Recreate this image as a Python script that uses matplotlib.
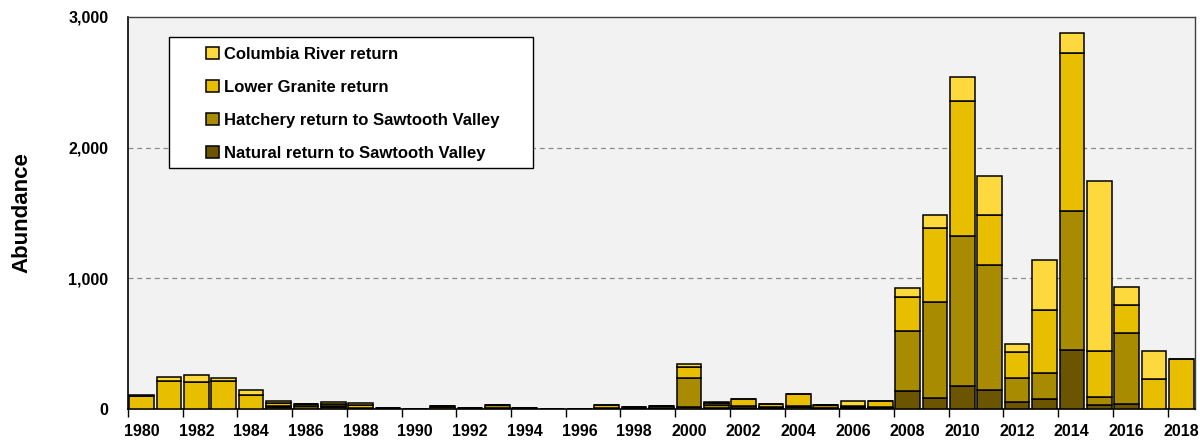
import numpy as np
import matplotlib
matplotlib.use("Agg")
import matplotlib.pyplot as plt
from matplotlib.patches import Rectangle
from matplotlib.ticker import FuncFormatter

# return years
years = list(range(1980, 2019))

# stacked segments per year (fish counts), bottom to top
natural = [0, 0, 0, 0, 0, 12, 20, 12, 5, 3,
           3, 12, 5, 10, 5, 3, 3, 4, 10, 8,
           15, 10, 8, 8, 15, 10, 8, 8, 135, 84,
           179, 148, 54, 77, 452, 28, 38, 0, 0]
hatchery = [0, 0, 0, 0, 0, 14, 16, 11, 5, 2,
            0, 8, 0, 18, 0, 0, 0, 4, 5, 17,
            225, 21, 12, 10, 5, 18, 7, 7, 465, 735,
            1148, 951, 186, 196, 1063, 64, 541, 0, 0]
lower_granite = [100, 214, 207, 212, 105, 20, 0, 18, 21, 0,
                 0, 0, 0, 0, 0, 0, 0, 20, 0, 0,
                 80, 15, 54, 18, 92, 0, 5, 44, 257, 569,
                 1033, 383, 196, 482, 1212, 352, 217, 232, 380]
columbia = [7, 28, 51, 28, 40, 15, 0, 13, 15, 0,
            0, 0, 0, 0, 0, 0, 0, 0, 0, 0,
            22, 5, 0, 0, 0, 0, 41, 0, 72, 94,
            178, 299, 61, 383, 148, 1303, 135, 212, 0]

series = [
    ("Natural return to Sawtooth Valley", natural, "#6b5500"),
    ("Hatchery return to Sawtooth Valley", hatchery, "#a88b00"),
    ("Lower Granite return", lower_granite, "#e8be00"),
    ("Columbia River return", columbia, "#fdd93d"),
]

plt.rcParams["font.family"] = ["Liberation Sans", "DejaVu Sans"]
plt.rcParams["font.weight"] = "bold"

fig = plt.figure(figsize=(12, 4.45), dpi=100)
ax = fig.add_axes([0.1067, 0.0809, 0.8891, 0.8809])
ax.set_facecolor("#f2f2f2")

x = np.arange(len(years))
bottom = np.zeros(len(years))
handles = []
for label, values, color in series:
    vals = np.array(values, dtype=float)
    b = ax.bar(x, vals, bottom=bottom, width=0.9, color=color,
               edgecolor="black", linewidth=1.1, label=label, zorder=3)
    handles.append(b)
    bottom += vals

ax.set_xlim(-0.5, len(years) - 0.5)
ax.set_ylim(0, 3000)

# y axis
ax.set_yticks([0, 1000, 2000, 3000])
ax.yaxis.set_major_formatter(FuncFormatter(lambda v, p: f"{int(v):,}"))
ax.tick_params(axis="y", length=0, pad=14, labelsize=11.5)
for yv in [1000, 2000]:
    ax.axhline(yv, color="#8c8c8c", linestyle=(0, (4, 3)), linewidth=0.9, zorder=1)
ax.set_ylabel("Abundance", fontsize=16, fontweight="bold", labelpad=26)

# x axis: tick marks at category edges, labels at bar centers
ax.set_xticks(np.arange(-0.5, len(years), 2))
ax.set_xticklabels([])
ax.tick_params(axis="x", which="major", length=6, width=1, color="black", direction="out")
ax.set_xticks(x[::2], minor=True)
ax.set_xticklabels([str(y) for y in years[::2]], minor=True, fontsize=11.5, fontweight="bold")
ax.tick_params(axis="x", which="minor", length=0, pad=11)

ax.spines["left"].set_color("black")
ax.spines["bottom"].set_color("black")
ax.spines["bottom"].set_linewidth(1.2)
ax.spines["left"].set_linewidth(1.2)
for s in ["top", "right"]:
    ax.spines[s].set_color("#404040")
    ax.spines[s].set_linewidth(1.0)

# legend box drawn separately so it can be wider than the entries
ax.add_patch(Rectangle((0.0384, 0.615), 0.3412, 0.334, transform=ax.transAxes,
                       facecolor="white", edgecolor="black", linewidth=1.0, zorder=4))
leg = ax.legend(handles[::-1], [s[0] for s in series][::-1],
                loc="upper left", bbox_to_anchor=(0.0731, 0.923),
                prop={"size": 12, "weight": "bold"},
                frameon=False, handlelength=0.75, handleheight=0.75,
                handletextpad=0.35, labelspacing=1.08, borderpad=0,
                borderaxespad=0)
leg.set_zorder(5)

fig.savefig("out.png", dpi=100)
